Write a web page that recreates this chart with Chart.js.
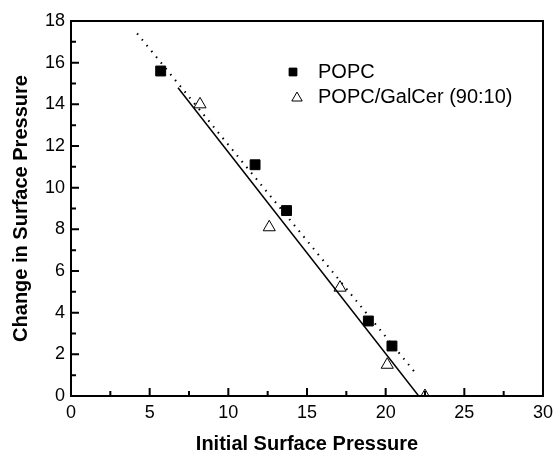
<!DOCTYPE html>
<html>
<head>
<meta charset="utf-8">
<script src="https://cdn.jsdelivr.net/npm/chart.js@4.4.0/dist/chart.umd.min.js"></script>
<style>
  html, body { margin: 0; padding: 0; background: #fff; }
  #wrap { width: 555px; height: 452px; }
</style>
</head>
<body>
<div id="wrap"><canvas id="chart" width="555" height="452"></canvas></div>
<script>
// data
const popcX = [5.7, 11.7, 13.7, 18.9, 20.4];
const popcY = [15.6, 11.1, 8.9, 3.6, 2.4];
const galX = [8.2, 12.6, 17.1, 20.1, 22.5];
const galY = [14.0, 8.1, 5.2, 1.5, 0.0];

// linear fits (end points as drawn)
const fitPopcX = [6.8, 22.1];
const fitPopcY = [14.8, 0.0];
const fitGalX = [4.2, 21.9];
const fitGalY = [17.4, 1.1];

const xMajor = [0, 5, 10, 15, 20, 25, 30];
const xMinor = [2.5, 7.5, 12.5, 17.5, 22.5, 27.5];
const yMajor = [0, 2, 4, 6, 8, 10, 12, 14, 16, 18];
const yMinor = [1, 3, 5, 7, 9, 11, 13, 15, 17];

const legendLabels = ["POPC", "POPC/GalCer (90:10)"];

const FONT = "'Liberation Sans', Arial, sans-serif";
const pts = (xs, ys) => xs.map((x, i) => ({ x: x, y: ys[i] }));

/* ---------- frame, inward ticks, legend ---------- */
const framePlugin = {
  id: "frame",
  afterDatasetsDraw(chart) {
    const { ctx, chartArea: a } = chart;
    const xs = chart.scales.x, ys = chart.scales.y;
    ctx.save();
    ctx.strokeStyle = "#000";
    ctx.lineWidth = 2;
    ctx.strokeRect(a.left, a.top, a.right - a.left, a.bottom - a.top);
    ctx.beginPath();
    xMajor.forEach((v) => { const p = xs.getPixelForValue(v); ctx.moveTo(p, a.bottom); ctx.lineTo(p, a.bottom - 8); });
    xMinor.forEach((v) => { const p = xs.getPixelForValue(v); ctx.moveTo(p, a.bottom); ctx.lineTo(p, a.bottom - 5); });
    yMajor.forEach((v) => { const p = ys.getPixelForValue(v); ctx.moveTo(a.left, p); ctx.lineTo(a.left + 8, p); });
    yMinor.forEach((v) => { const p = ys.getPixelForValue(v); ctx.moveTo(a.left, p); ctx.lineTo(a.left + 5, p); });
    ctx.stroke();

    // legend
    const lx = a.left + 222, ly = a.top + 51;
    ctx.lineWidth = 1;
    Chart.helpers.drawPoint(ctx, { pointStyle: "rect", radius: 5.5, borderWidth: 1 }, lx, ly);
    ctx.fillStyle = "#000";
    ctx.fill();
    ctx.fillStyle = "#fff";
    Chart.helpers.drawPoint(ctx, { pointStyle: "triangle", radius: 6, borderWidth: 1 }, lx + 4, ly + 26);
    ctx.fillStyle = "#000";
    ctx.font = "20px " + FONT;
    ctx.textBaseline = "middle";
    ctx.fillText(legendLabels[0], lx + 25, ly);
    ctx.fillText(legendLabels[1], lx + 25, ly + 25);
    ctx.restore();
  }
};

const ctx = document.getElementById("chart");
new Chart(ctx, {
  type: "scatter",
  data: {
    datasets: [
      {
        label: "fit POPC",
        data: pts(fitPopcX, fitPopcY),
        showLine: true,
        borderColor: "#000",
        borderWidth: 1.5,
        pointRadius: 0
      },
      {
        label: "fit POPC/GalCer",
        data: pts(fitGalX, fitGalY),
        showLine: true,
        borderColor: "#000",
        borderWidth: 2,
        borderDash: [1.5, 6],
        pointRadius: 0
      },
      {
        label: legendLabels[0],
        data: pts(popcX, popcY),
        pointStyle: "rect",
        pointRadius: 7,
        backgroundColor: "#000",
        borderColor: "#000",
        borderWidth: 1
      },
      {
        label: legendLabels[1],
        data: pts(galX, galY),
        pointStyle: "triangle",
        pointRadius: 7,
        backgroundColor: "#fff",
        borderColor: "#000",
        borderWidth: 1
      }
    ]
  },
  options: {
    responsive: false,
    animation: false,
    layout: { padding: { top: 21, right: 12, left: 0, bottom: 0 } },
    plugins: { legend: { display: false }, tooltip: { enabled: false } },
    scales: {
      x: {
        type: "linear",
        min: 0,
        max: 30,
        afterFit: (s) => { s.height = 56; s.paddingLeft = 0; s.paddingRight = 0; },
        afterBuildTicks: (s) => { s.ticks = xMajor.map((v) => ({ value: v })); },
        grid: { display: false, drawTicks: false },
        border: { display: false },
        ticks: {
          padding: 6,
          color: "#000",
          font: { family: FONT, size: 18 }
        },
        title: {
          display: true,
          text: "Initial Surface Pressure",
          color: "#000",
          padding: { top: 8, bottom: -4 },
          font: { family: FONT, size: 20, weight: "bold" }
        }
      },
      y: {
        type: "linear",
        min: 0,
        max: 18,
        afterFit: (s) => { s.width = 71; s.paddingTop = 0; s.paddingBottom = 0; },
        afterBuildTicks: (s) => { s.ticks = yMajor.map((v) => ({ value: v })); },
        grid: { display: false, drawTicks: false },
        border: { display: false },
        ticks: {
          padding: 6,
          color: "#000",
          font: { family: FONT, size: 18 }
        },
        title: {
          display: true,
          text: "Change in Surface Pressure",
          color: "#000",
          padding: { top: 9, bottom: 0 },
          font: { family: FONT, size: 20, weight: "bold" }
        }
      }
    }
  },
  plugins: [framePlugin]
});
</script>
</body>
</html>
